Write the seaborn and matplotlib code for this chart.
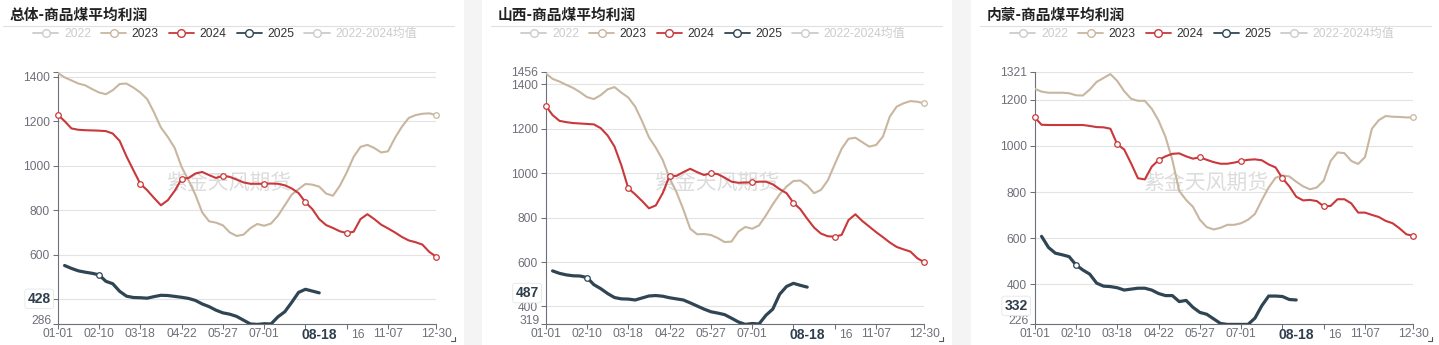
import numpy as np
import pandas as pd
import matplotlib
matplotlib.use("Agg")
import matplotlib.pyplot as plt
from matplotlib.lines import Line2D
from matplotlib.patches import Rectangle
from matplotlib.transforms import blended_transform_factory
import seaborn as sns

# ---------------------------------------------------------------- data
n_points = 56                       # weekly observations per year
tick_pos = [0, 6, 12, 18, 24, 30, 36, 42, 48, 55]
tick_labels = ["01-01", "02-10", "03-18", "04-22", "05-27", "07-01", "08-05", "09-16", "11-07", "12-30"]
pointer_pos = 38
pointer_date = "08-18"
covered_ticks = [36, 42]            # tick labels sitting under the pointer label

titles = ["总体-商品煤平均利润", "山西-商品煤平均利润", "内蒙-商品煤平均利润"]
legend_labels = ["2022", "2023", "2024", "2025", "2022-2024均值"]
first_idx_2025 = 1                  # 2025 series starts at the second week

total_2023 = [1418, 1398, 1384, 1370, 1362, 1345, 1330, 1322, 1340, 1368,
              1370, 1352, 1330, 1300, 1240, 1172, 1130, 1080, 995, 935,
              870, 790, 750, 744, 732, 700, 684, 690, 719, 738,
              730, 740, 775, 822, 870, 895, 918, 915, 906, 875,
              865, 910, 970, 1040, 1085, 1094, 1080, 1060, 1065, 1125,
              1175, 1215, 1228, 1234, 1236, 1228]
total_2024 = [1230, 1201, 1168, 1162, 1160, 1159, 1158, 1156, 1145, 1112,
              1042, 980, 919, 890, 855, 822, 845, 887, 940, 945,
              965, 972, 958, 945, 955, 950, 938, 925, 919, 919,
              919, 920, 919, 912, 898, 877, 836, 805, 760, 733,
              720, 705, 697, 703, 760, 782, 760, 735, 718, 700,
              680, 664, 656, 645, 612, 591]
total_2025 = [551, 538, 527, 521, 516, 509, 480, 469, 435, 413,
              407, 406, 404, 411, 417, 416, 412, 408, 403, 394,
              378, 366, 350, 338, 332, 322, 305, 288, 286, 289,
              288, 320, 343, 385, 430, 444, 436, 428]

shanxi_2023 = [1450, 1425, 1413, 1398, 1384, 1365, 1343, 1334, 1352, 1378,
               1388, 1363, 1341, 1300, 1235, 1162, 1115, 1060, 978, 915,
               837, 750, 725, 726, 722, 708, 690, 692, 737, 758,
               750, 765, 810, 860, 905, 940, 965, 967, 945, 910,
               925, 968, 1040, 1110, 1155, 1160, 1140, 1120, 1127, 1165,
               1255, 1300, 1315, 1325, 1322, 1315]
shanxi_2024 = [1304, 1262, 1236, 1230, 1226, 1224, 1222, 1220, 1203, 1170,
               1120, 1035, 932, 905, 875, 842, 855, 910, 988, 988,
               1005, 1020, 1005, 992, 1000, 996, 980, 962, 957, 958,
               959, 962, 962, 950, 928, 910, 867, 838, 795, 755,
               728, 716, 714, 722, 789, 815, 785, 760, 735, 712,
               688, 668, 657, 647, 617, 599]
shanxi_2025 = [560, 549, 542, 538, 537, 530, 498, 480, 458, 440,
               434, 433, 429, 438, 447, 449, 446, 439, 434, 429,
               416, 402, 388, 376, 370, 363, 347, 330, 319, 323,
               321, 360, 388, 455, 490, 504, 495, 487]

neimeng_2023 = [1248, 1236, 1231, 1231, 1231, 1229, 1220, 1219, 1245, 1278,
                1295, 1312, 1282, 1238, 1205, 1196, 1196, 1162, 1110, 1040,
                940, 805, 766, 736, 680, 648, 638, 645, 658, 658,
                665, 680, 705, 765, 820, 862, 872, 868, 845, 825,
                812, 820, 850, 935, 972, 969, 935, 922, 952, 1075,
                1112, 1130, 1127, 1126, 1124, 1124]
neimeng_2024 = [1124, 1092, 1091, 1091, 1091, 1091, 1091, 1091, 1087, 1082,
                1081, 1075, 1007, 985, 925, 860, 855, 910, 939, 955,
                966, 968, 955, 945, 951, 940, 930, 923, 923, 928,
                935, 940, 942, 938, 920, 907, 860, 825, 780, 764,
                766, 761, 738, 740, 769, 769, 751, 711, 711, 701,
                692, 675, 665, 643, 617, 610]
neimeng_2025 = [608, 560, 535, 528, 520, 484, 462, 444, 405, 392,
                390, 385, 375, 379, 383, 383, 375, 360, 351, 351,
                325, 330, 300, 278, 270, 250, 230, 226, 226, 226,
                226, 253, 307, 349, 349, 347, 334, 332]

# axis minimum, labelled y ticks, grid-only ticks whose labels are hidden
y_min = [286, 319, 226]
yticks = [[600, 800, 1000, 1200, 1400],
          [400, 600, 800, 1000, 1200, 1400, 1456],
          [400, 600, 800, 1000, 1200, 1321]]
yticks_unlabelled = [[400, 1422], [], []]

# week positions that carry hollow point markers
marks = {"2023": [55], "2024": [0, 12, 18, 24, 30, 36, 42, 55], "2025": [6]}

# ---------------------------------------------------------------- style
sns.set_theme(style="white")
plt.rcParams["font.family"] = ["Liberation Sans", "Noto Sans CJK SC"]
plt.rcParams["lines.solid_joinstyle"] = "round"
plt.rcParams["lines.solid_capstyle"] = "round"

palette = {"2023": "#c8b6a0", "2024": "#c9383a", "2025": "#2f4554"}
widths = {"2023": 1.5, "2024": 1.5, "2025": 2.3}
disabled = "#cccccc"
legend_colors = [disabled, palette["2023"], palette["2024"], palette["2025"], disabled]
legend_text_colors = [disabled, "#333333", "#333333", "#333333", disabled]
axis_grey = "#6e7079"
pointer_color = "#2f3e4e"
tick_fs = 8.64

W, H = 1439, 345
fig = plt.figure(figsize=(W / 100, H / 100), dpi=100)
fig.patch.set_facecolor("#f4f4f4")


def fx(px):
    return px / W


def fy(py):
    return 1 - py / H


panel_left = [-6, 482, 971]
panel_w = 470
ax_left_off, ax_w = 63.7, 378.5
ax_top, ax_bottom = 72.0, 324.4
ax_h = ax_bottom - ax_top

series_sets = [(total_2023, total_2024, total_2025),
               (shanxi_2023, shanxi_2024, shanxi_2025),
               (neimeng_2023, neimeng_2024, neimeng_2025)]

shown_pos = [p for p in tick_pos if p not in covered_ticks]
shown_lab = [l for p, l in zip(tick_pos, tick_labels) if p not in covered_ticks]

for k, (pl, (s23, s24, s25)) in enumerate(zip(panel_left, series_sets)):
    # white card
    fig.add_artist(Rectangle((fx(pl), 0), panel_w / W, 1, transform=fig.transFigure,
                             facecolor="white", edgecolor="none", zorder=-10))
    # title + separator
    fig.text(fx(pl + 16), fy(14.5), titles[k], fontsize=10.6, fontweight="bold",
             family=["Noto Sans CJK SC"], color="#222222", ha="left", va="center")
    fig.add_artist(Line2D([fx(pl + 9), fx(pl + 460)], [fy(25.7), fy(25.7)],
                          transform=fig.transFigure, color="#e0e0e0", lw=0.8))
    # resize corner mark
    cx, cy = pl + panel_w - 9, 341
    fig.add_artist(Line2D([fx(cx - 4), fx(cx), fx(cx)], [fy(cy), fy(cy), fy(cy - 4)],
                          transform=fig.transFigure, color="#555555", lw=0.8))

    # legend
    handles = [Line2D([], [], color=c, lw=1.3, marker="o", ms=5.5, mfc="white",
                      mec=c, mew=1.0) for c in legend_colors]
    leg = fig.legend(handles, legend_labels, loc="center",
                     bbox_to_anchor=(fx(pl + 231), fy(34.2)), ncol=5, frameon=False,
                     fontsize=tick_fs, handlelength=2.1, handletextpad=0.45,
                     columnspacing=0.85, borderpad=0, borderaxespad=0)
    for t, c in zip(leg.get_texts(), legend_text_colors):
        t.set_color(c)

    ax = fig.add_axes([fx(pl + ax_left_off), fy(ax_bottom), ax_w / W, ax_h / H])
    ax.set_facecolor("white")

    frames = [
        pd.DataFrame({"week": np.arange(len(s23)), "profit": s23, "year": "2023"}),
        pd.DataFrame({"week": np.arange(len(s24)), "profit": s24, "year": "2024"}),
        pd.DataFrame({"week": np.arange(first_idx_2025, first_idx_2025 + len(s25)),
                      "profit": s25, "year": "2025"}),
    ]
    df = pd.concat(frames, ignore_index=True)
    sns.lineplot(data=df, x="week", y="profit", hue="year", size="year",
                 hue_order=["2023", "2024", "2025"], palette=palette, sizes=widths,
                 estimator=None, sort=True, legend=False, ax=ax, zorder=3)

    for year, idxs in marks.items():
        sub = df[(df["year"] == year) & (df["week"].isin(idxs))]
        sns.scatterplot(x=sub["week"], y=sub["profit"], ax=ax, s=16, color="white",
                        edgecolor=palette[year], linewidth=0.9, zorder=5,
                        legend=False, clip_on=False)

    yt = yticks[k]
    y_grid = yticks_unlabelled[k] + [y_min[k]]
    ax.set_xlim(0, n_points - 1)
    ax.set_ylim(y_min[k], max(yt + y_grid))
    ax.set_xticks(shown_pos)
    ax.set_xticklabels(shown_lab)
    ax.set_xticks(covered_ticks, minor=True)
    ax.set_yticks(yt)
    ax.set_yticklabels([str(v) for v in yt])
    ax.set_yticks(y_grid, minor=True)
    ax.set_xlabel("")
    ax.set_ylabel("")
    for s in ("top", "right"):
        ax.spines[s].set_visible(False)
    for s in ("left", "bottom"):
        ax.spines[s].set_color(axis_grey)
        ax.spines[s].set_linewidth(0.8)
    ax.tick_params(axis="x", which="both", length=3.6, width=0.75, colors=axis_grey,
                   labelsize=tick_fs, pad=-0.8, bottom=True)
    ax.tick_params(axis="y", which="both", length=3.6, width=0.75, colors=axis_grey,
                   labelsize=tick_fs, pad=2, left=True)
    ax.yaxis.grid(True, which="both", color="#e3e3e3", lw=0.8)
    ax.xaxis.grid(False, which="both")
    ax.set_axisbelow(True)

    # axis-minimum label, nudged up clear of the first date label
    ty = blended_transform_factory(ax.transAxes, ax.transData)
    ax.annotate(str(y_min[k]), xy=(0, y_min[k]), xycoords=ty, xytext=(-4.6, 2.6),
                textcoords="offset points", ha="right", va="center", fontsize=tick_fs,
                color=axis_grey, annotation_clip=False)

    # watermark
    ax.text((235 - ax_left_off) / ax_w, (ax_bottom - 183) / ax_h, "紫金天风期货",
            transform=ax.transAxes, fontsize=15, color="#dcdcdc",
            family=["Noto Sans CJK SC"], ha="center", va="center", zorder=1)

    # axis pointer labels (value of the 2025 series at the pointer week)
    val = s25[pointer_pos - first_idx_2025]
    ax.annotate(str(val), xy=(0, val), xycoords=ty, xytext=(-5, -4.3),
                textcoords="offset points", ha="right", va="center", fontsize=10,
                fontweight="bold", color=pointer_color, annotation_clip=False, zorder=8,
                bbox=dict(boxstyle="round,pad=0.2", fc="white", ec="#e6e6e6", lw=0.6))
    tx = blended_transform_factory(ax.transData, ax.transAxes)
    ax.text(pointer_pos, -10.5 / ax_h, pointer_date, transform=tx, ha="center", va="center",
            fontsize=10, fontweight="bold", color=pointer_color, zorder=8)
    # the part of the next date label that stays visible beside the pointer label
    tail = tick_labels[tick_pos.index(42)].split("-")[1]
    ax.text(43.6, -10.5 / ax_h, tail, transform=tx, ha="center", va="center",
            fontsize=tick_fs, color=axis_grey, zorder=8)

fig.savefig("out.png", dpi=100, facecolor=fig.get_facecolor())
